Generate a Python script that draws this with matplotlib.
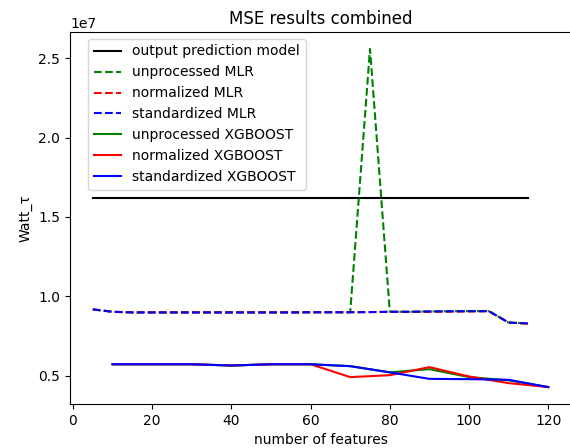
import numpy as np
import matplotlib.pyplot as plt

# number of features tested
mlr_features = [5, 10, 15, 20, 25, 30, 35, 40, 45, 50, 55, 60, 65, 70, 75,
                80, 85, 90, 95, 100, 105, 110, 115]
xgb_features = [10, 20, 30, 40, 50, 60, 70, 80, 90, 100, 110, 120]

# MSE values (x 1e7)
output_model = [1.622, 1.622]
output_features = [5, 115]

unprocessed_mlr = [0.917, 0.902, 0.898, 0.898, 0.898, 0.898, 0.898, 0.898,
                   0.898, 0.898, 0.898, 0.899, 0.899, 0.899, 2.56, 0.902,
                   0.902, 0.904, 0.905, 0.906, 0.906, 0.834, 0.829]
normalized_mlr = [0.917, 0.902, 0.898, 0.898, 0.898, 0.898, 0.898, 0.898,
                  0.898, 0.898, 0.898, 0.899, 0.899, 0.899, 0.900, 0.902,
                  0.902, 0.902, 0.903, 0.904, 0.906, 0.834, 0.826]
standardized_mlr = [0.917, 0.902, 0.898, 0.898, 0.898, 0.898, 0.898, 0.898,
                    0.898, 0.898, 0.898, 0.899, 0.899, 0.899, 0.900, 0.902,
                    0.902, 0.904, 0.905, 0.906, 0.906, 0.834, 0.829]

unprocessed_xgb = [0.571, 0.571, 0.571, 0.563, 0.571, 0.571, 0.559, 0.520,
                   0.540, 0.490, 0.470, 0.427]
normalized_xgb = [0.571, 0.571, 0.571, 0.563, 0.571, 0.571, 0.490, 0.502,
                  0.553, 0.494, 0.452, 0.427]
standardized_xgb = [0.571, 0.571, 0.571, 0.563, 0.571, 0.571, 0.559, 0.520,
                    0.479, 0.477, 0.473, 0.427]


def to_mse(values):
    return np.array(values) * 1e7


fig = plt.figure(figsize=(5.7, 4.48), dpi=100)
ax = fig.add_axes([70 / 570, 1 - 404 / 448, 501 / 570, 372 / 448])

ax.plot(output_features, to_mse(output_model), 'k', label='output prediction model')
ax.plot(mlr_features, to_mse(unprocessed_mlr), 'g--', label='unprocessed MLR')
ax.plot(mlr_features, to_mse(normalized_mlr), 'r--', label='normalized MLR')
ax.plot(mlr_features, to_mse(standardized_mlr), 'b--', label='standardized MLR')
ax.plot(xgb_features, to_mse(unprocessed_xgb), 'g', label='unprocessed XGBOOST')
ax.plot(xgb_features, to_mse(normalized_xgb), 'r', label='normalized XGBOOST')
ax.plot(xgb_features, to_mse(standardized_xgb), 'b', label='standardized XGBOOST')

ax.set_title('MSE results combined')
ax.set_xlabel('number of features')
ax.set_ylabel('Watt_τ')
ax.legend(loc='upper left', bbox_to_anchor=(0.022, 1.0))

fig.savefig('out.png', dpi=100)
